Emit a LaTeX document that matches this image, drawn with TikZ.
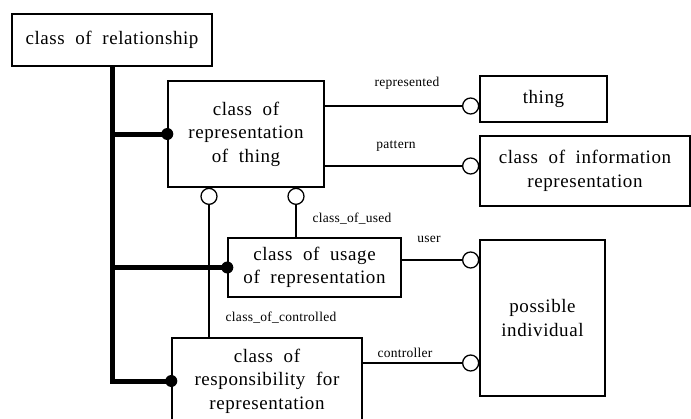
\documentclass[tikz,border=0pt]{standalone}
\usepackage{fontspec}
\setmainfont{Liberation Serif}
\usetikzlibrary{calc}

\begin{document}
\begin{tikzpicture}[x=1pt, y=-1pt,
    entity/.style={draw, line width=1.4pt, align=center, inner sep=0pt,
      font=\fontsize{19}{23.5}\selectfont\addfontfeature{LetterSpace=3}},
    rolelabel/.style={inner sep=0pt, font=\fontsize{13.5}{14}\selectfont\addfontfeature{LetterSpace=2}},
    relline/.style={line width=1.3pt},
    superline/.style={line width=5pt},
    opencirc/.style={draw, circle, line width=1.3pt, fill=white, minimum size=16pt, inner sep=0pt},
    dotcirc/.style={circle, fill, minimum size=12pt, inner sep=0pt}]

      % Frame
      \useasboundingbox (0,0) rectangle (691,418);
      \clip (0,0) rectangle (691,418);

      % Entity boxes
      \node[entity, minimum width=200pt, minimum height=52pt] (rel) at (112,40) {class \ of \ relationship};
      \node[entity, minimum width=156pt, minimum height=106pt] (rept) at (246,134) {class \ of\\representation\\of \ thing};
      \node[entity, minimum width=127pt, minimum height=46pt] (thing) at (543.5,99) {thing};
      \node[entity, minimum width=210pt, minimum height=70pt] (inforep) at (585,171) {class \ of \ information\\representation};
      \node[entity, minimum width=173pt, minimum height=59pt] (usage) at (314.5,267.5) {class \ of \ usage\\of \ representation};
      \node[entity, minimum width=125pt, minimum height=156pt] (possind) at (542.5,318) {possible\\individual};
      \node[entity, minimum width=190pt, minimum height=86pt] (resp) at (267,381) {class \ of\\responsibility \ for\\representation};

      % Subtype trunk
      \draw[superline] (rel.south) -- (rel.south |- resp.west) -- (resp.west);
      \draw[superline] (rel.south |- rept.west) -- (rept.west);
      \draw[superline] (rel.south |- usage.west) -- (usage.west);
      \node[dotcirc] at (rept.west) {};
      \node[dotcirc] at (usage.west) {};
      \node[dotcirc] at (resp.west) {};

      % Relationship ends
      \node[opencirc, anchor=east] (c-repd) at (thing.west |- 0,106) {};
      \node[opencirc, anchor=east] (c-patt) at (inforep.west |- 0,166) {};
      \node[opencirc, anchor=east] (c-user) at (possind.west |- 0,260) {};
      \node[opencirc, anchor=east] (c-ctrl) at (possind.west |- 0,363) {};
      \node[opencirc, anchor=north] (c-cctl) at (rept.south -| 209,0) {};
      \node[opencirc, anchor=north] (c-used) at (rept.south -| 296,0) {};

      % Relationships
      \draw[relline] (rept.east |- c-repd) -- (c-repd);
      \draw[relline] (rept.east |- c-patt) -- (c-patt);
      \draw[relline] (usage.east |- c-user) -- (c-user);
      \draw[relline] (resp.east |- c-ctrl) -- (c-ctrl);
      \draw[relline] (c-cctl) -- (c-cctl |- resp.north);
      \draw[relline] (c-used) -- (c-used |- usage.north);

      % Role labels
      \node[rolelabel] at (407,83) {represented};
      \node[rolelabel] at (396,146) {pattern};
      \node[rolelabel] at (352,219) {class\_of\_used};
      \node[rolelabel] at (429,239) {user};
      \node[rolelabel] at (281,318) {class\_of\_controlled};
      \node[rolelabel] at (405,353) {controller};

    \end{tikzpicture}
\end{document}
